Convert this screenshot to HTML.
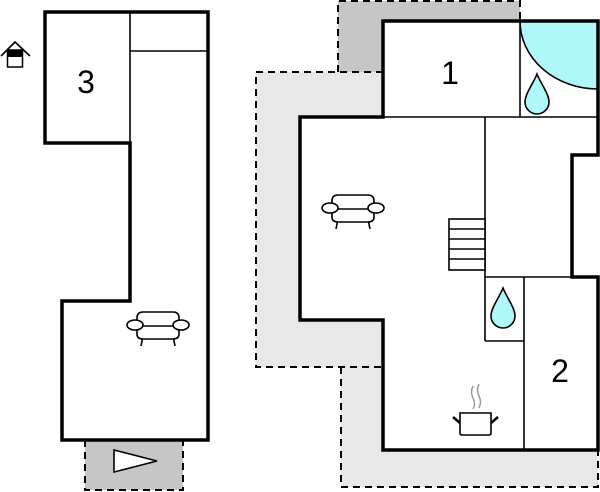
<!DOCTYPE html>
<html><head><style>html,body{margin:0;padding:0;background:#fff}svg{display:block}</style></head><body>
<svg width="600" height="492" viewBox="0 0 600 492" xmlns="http://www.w3.org/2000/svg">
<defs>
<g id="chair" fill="#fff" stroke="#000" stroke-width="1.6">
<line x1="16" y1="24" x2="14" y2="34"/><line x1="46" y1="24" x2="48" y2="34"/>
<path d="M10 6 Q10 0 16 0 H46 Q52 0 52 6 V22 Q52 27 46 27 H16 Q10 27 10 22 Z"/>
<line x1="10" y1="14" x2="52" y2="14"/>
<ellipse cx="8" cy="13" rx="8" ry="5"/><ellipse cx="54" cy="13" rx="8" ry="5"/>
</g>
<path id="drop" d="M12 0 C16 10 24 20 24 28 A12 12 0 0 1 0 28 C0 20 8 10 12 0 Z" fill="#aef8fb" stroke="#000" stroke-width="1.6"/>
</defs>
<!-- terraces right -->
<rect x="338" y="1" width="182" height="71" fill="#c6c6c6"/>
<rect x="256" y="72" width="127" height="295" fill="#e8e8e8"/>
<rect x="341" y="367" width="257" height="120" fill="#e8e8e8"/>
<g fill="none" stroke="#000" stroke-width="2" stroke-dasharray="7,5">
<path d="M338 72 V1 H520 V21"/>
<path d="M383 72 H256 V367 H383"/>
<path d="M341 367 V487 H598 V450"/>
</g>
<!-- right building -->
<path d="M383 21 H598 V155 H572 V277 H598 V450 H383 V320 H300 V117 H383 Z" fill="#fff"/>
<path d="M598 21 H520 A78 68 0 0 0 598 89 Z" fill="#aef8fb"/>
<path d="M520 21 A78 68 0 0 0 598 89" fill="none" stroke="#000" stroke-width="1.6"/>
<g stroke="#000" stroke-width="1.6" fill="none">
<line x1="520" y1="21" x2="520" y2="117"/>
<line x1="383" y1="117" x2="598" y2="117"/>
<line x1="485" y1="117" x2="485" y2="341"/>
<line x1="485" y1="277" x2="572" y2="277"/>
<line x1="485" y1="341" x2="524" y2="341"/>
<line x1="524" y1="277" x2="524" y2="450"/>
<rect x="449" y="219" width="36" height="51" fill="#fff"/>
<line x1="449" y1="229" x2="485" y2="229"/><line x1="449" y1="239" x2="485" y2="239"/>
<line x1="449" y1="249" x2="485" y2="249"/><line x1="449" y1="259" x2="485" y2="259"/>
</g>
<path d="M383 21 H598 V155 H572 V277 H598 V450 H383 V320 H300 V117 H383 Z" fill="none" stroke="#000" stroke-width="3.5"/>
<use href="#drop" x="525" y="74"/>
<use href="#drop" x="491" y="288"/>
<use href="#chair" x="322" y="195"/>
<!-- pot -->
<g stroke="#000" stroke-width="1.6" fill="#fff">
<path d="M460 413 H491 V433 Q491 435 489 435 H462 Q460 435 460 433 Z"/>
<line x1="453" y1="417" x2="460" y2="423" stroke-width="2.5"/>
<line x1="498" y1="417" x2="491" y2="423" stroke-width="2.5"/>
</g>
<g stroke="#999" stroke-width="1.5" fill="none">
<path d="M473 386 Q470 392 473 398 Q476 404 473 409"/>
<path d="M479 384 Q476 390 479 396 Q482 402 479 408"/>
</g>
<text x="450" y="84" font-family="Liberation Sans, sans-serif" font-size="32" text-anchor="middle">1</text>
<text x="560" y="382" font-family="Liberation Sans, sans-serif" font-size="32" text-anchor="middle">2</text>
<!-- left building -->
<rect x="85" y="440" width="98" height="50" fill="#c6c6c6"/>
<path d="M85 440 V490 H183 V440" fill="none" stroke="#000" stroke-width="2" stroke-dasharray="7,5"/>
<path d="M114 450 L157 461 L114 472 Z" fill="#fff" stroke="#000" stroke-width="1.6"/>
<g stroke="#000" stroke-width="1.6"><line x1="130" y1="12" x2="130" y2="143"/><line x1="130" y1="51" x2="208" y2="51"/></g>
<path d="M45 12 H208 V440 H62 V301 H130 V143 H45 Z" fill="none" stroke="#000" stroke-width="3.5"/>
<use href="#chair" x="127" y="312"/>
<text x="86" y="93" font-family="Liberation Sans, sans-serif" font-size="32" text-anchor="middle">3</text>
<!-- house icon -->
<path d="M1 56 L15 42 L30 56" fill="none" stroke="#000" stroke-width="1.6"/>
<rect x="7.5" y="50" width="15" height="17" fill="#fff" stroke="#000" stroke-width="1.5"/>
<rect x="7.5" y="50" width="15" height="7" fill="#000"/>
</svg>
</body></html>
